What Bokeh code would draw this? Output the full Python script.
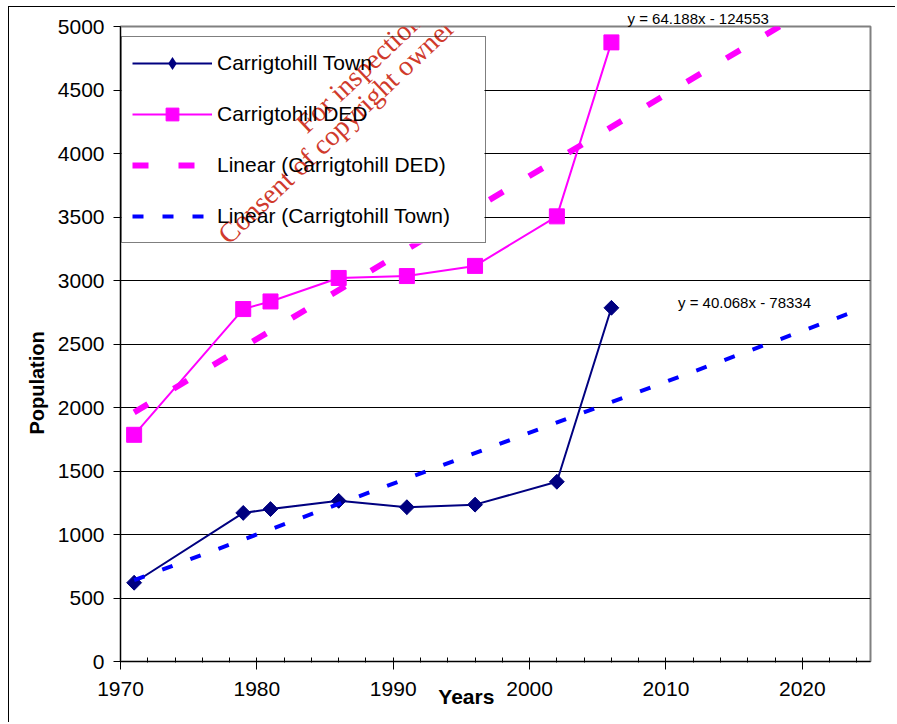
from bokeh.plotting import figure
from bokeh.models import (Range1d, SingleIntervalTicker, Legend, LegendItem, Label, Title,
                          BoxAnnotation)
from bokeh.embed import file_html
from bokeh.resources import INLINE
import math

# ---- data ----
years = [1971, 1979, 1981, 1986, 1991, 1996, 2002, 2006]
town = [620, 1170, 1200, 1265, 1215, 1235, 1415, 2785]
ded = [1785, 2775, 2835, 3020, 3035, 3115, 3505, 4875]

trend_years = [1971, 2024]
ded_trend = [1962, 5364]    # y = 64.188x - 124553
town_trend = [640, 2763]    # y = 40.068x - 78334

series_names = ["Carrigtohill Town", "Carrigtohill DED",
                "Linear (Carrigtohill DED)", "Linear (Carrigtohill Town)"]
ded_eq = "y = 64.188x - 124553"
town_eq = "y = 40.068x - 78334"
x_title = "Years"
y_title = "Population"
watermark = ["For inspection purposes only.",
             "Consent of copyright owner required for any other use."]

FONT = "Liberation Sans"

p = figure(width=887, height=716, output_backend="svg", toolbar_location=None,
           x_range=Range1d(1970, 2025), y_range=Range1d(0, 5000),
           min_border_left=111, min_border_right=26, min_border_top=18,
           min_border_bottom=62)
p.styles = {"margin-left": "8px", "margin-top": "6px",
            "border-left": "1px solid black", "border-top": "1px solid black"}

p.background_fill_color = "white"
p.border_fill_color = "white"
p.outline_line_color = "#808080"
p.outline_line_width = 2

# axes
p.xaxis.ticker = SingleIntervalTicker(interval=10, num_minor_ticks=5)
p.yaxis.ticker = SingleIntervalTicker(interval=500, num_minor_ticks=0)
for ax in (p.xaxis, p.yaxis):
    ax.axis_line_color = "black"
    ax.axis_line_width = 1
    ax.major_tick_line_color = "black"
    ax.minor_tick_line_color = "black"
    ax.major_label_text_font = FONT
    ax.major_label_text_font_size = "21px"
    ax.major_label_text_color = "black"
    ax.axis_label_text_font = FONT
    ax.axis_label_text_font_style = "bold"
    ax.axis_label_text_color = "black"
p.xaxis.major_tick_in = 3
p.xaxis.major_tick_out = 8
p.xaxis.minor_tick_in = 4
p.xaxis.minor_tick_out = 1
p.xaxis.major_label_standoff = 12
p.yaxis.major_tick_in = 0
p.yaxis.major_tick_out = 7
p.yaxis.major_label_standoff = 9

# axis titles (non-breaking spaces shift them off-centre as in the original)
p.xaxis.axis_label = x_title + "\u00a0" * 10
p.xaxis.axis_label_text_font_size = "21px"
p.xaxis.axis_label_standoff = -14
p.yaxis.axis_label = y_title + "\u00a0" * 14
p.yaxis.axis_label_text_font_size = "20px"
p.yaxis.axis_label_standoff = 7

p.xgrid.grid_line_color = None
p.ygrid.grid_line_color = "black"
p.ygrid.grid_line_width = 1

# data series
town_line = p.line(years, town, line_color="#000080", line_width=2)
town_key = p.scatter(years, town, marker="diamond", size=15,
                     fill_color="#000080", line_color=None)
town_pts = p.scatter(years, town, marker="square", size=10.5, angle=math.pi / 4,
                     fill_color="#000080", line_color="#000080")
ded_line = p.line(years, ded, line_color="#FF00FF", line_width=2)
ded_pts = p.scatter(years, ded, marker="square", size=15,
                    fill_color="#FF00FF", line_color="#FF00FF")

# trend lines
ded_tr = p.line(trend_years, ded_trend, line_color="#FF00FF", line_width=6,
                line_dash="16 30")
town_tr = p.line(trend_years, town_trend, line_color="#0000FF", line_width=4,
                 line_dash="11 19")

# white key background (beneath the watermark)
key_bg = BoxAnnotation(left=1, right=364, bottom=418, top=623,
                       left_units="screen", right_units="screen",
                       bottom_units="screen", top_units="screen",
                       fill_color="white", fill_alpha=1.0, line_color=None,
                       level="annotation")
p.add_layout(key_bg)

legend = Legend(items=[
    LegendItem(label=series_names[0], renderers=[town_line, town_key]),
    LegendItem(label=series_names[1], renderers=[ded_line, ded_pts]),
    LegendItem(label=series_names[2], renderers=[ded_tr]),
    LegendItem(label=series_names[3], renderers=[town_tr]),
], location=(1, 418))
legend.padding = 10
legend.spacing = 19
legend.glyph_width = 80
legend.glyph_height = 32
legend.label_height = 32
legend.label_width = 258
legend.label_standoff = 5
legend.label_text_font = FONT
legend.label_text_font_size = "21px"
legend.label_text_color = "black"
legend.border_line_color = "black"
legend.border_line_width = 1
legend.background_fill_alpha = 0.0
legend.margin = 0
p.add_layout(legend, "center")

# equation labels
p.add_layout(Title(text=ded_eq, align="left", offset=507, text_font=FONT,
                   text_font_size="15px", text_font_style="normal",
                   text_color="black", standoff=0), "above")
p.add_layout(Label(x=624, y=359, x_units="screen", y_units="screen", text=town_eq,
                   text_font=FONT, text_font_size="15px", text_align="center",
                   text_baseline="middle", text_color="black"))

# watermark
ang = math.radians(43.5)
for (wx, wy), txt in zip([(180, 534), (102, 423)], watermark):
    p.add_layout(Label(x=wx, y=wy, x_units="screen", y_units="screen", text=txt,
                       text_font="Liberation Serif", text_font_size="28px",
                       text_align="left", text_baseline="alphabetic", angle=ang,
                       text_color="#D03A2C", level="overlay"))

open("out.html", "w").write(file_html(p, INLINE))
